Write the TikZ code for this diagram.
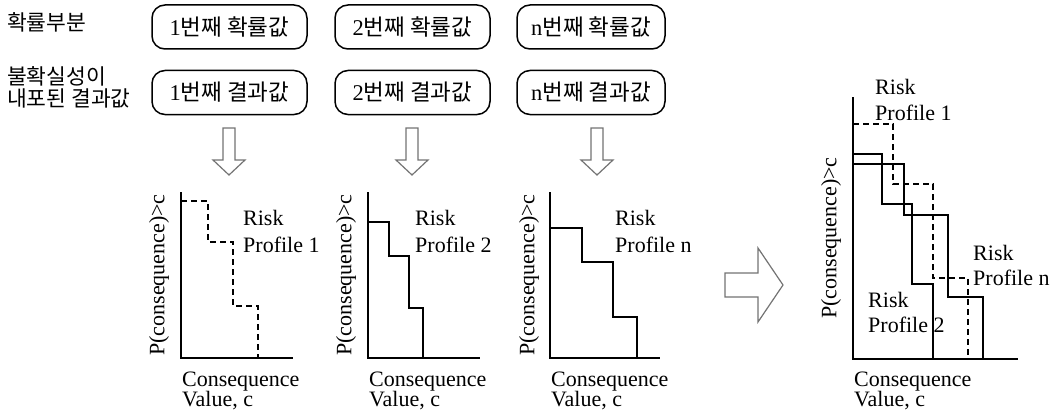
\documentclass[tikz,border=0pt]{standalone}
\usepackage{fontspec}
\setmainfont{Liberation Serif}
\newfontfamily\kr{Noto Sans CJK KR}
\begin{document}
\begin{tikzpicture}[x=1pt,y=-1pt,
  every node/.style={inner sep=0pt, font=\fontsize{22}{26}\selectfont},
  krtext/.style={font=\fontsize{21.5}{22}\selectfont\kr, align=left},
  inbox/.style={draw, line width=1.5pt, rounded corners=13pt,
    minimum width=155pt, minimum height=44pt, font=\fontsize{22.5}{24}\selectfont},
  axisline/.style={line width=1.9pt},
  curve/.style={line width=1.9pt},
  dcurve/.style={line width=1.6pt, dash pattern=on 6pt off 4pt},
  blockarrow/.style={draw=black!55, line width=1.2pt, fill=white},
  ylab/.style={rotate=90, anchor=center},
  tag/.style={anchor=base west}]
\useasboundingbox (0,0) rectangle (1055,412);

% row labels
\node[krtext, anchor=west] (lp) at (7,22) {확률부분};
\node[krtext, anchor=west] (lr) at (7,87) {불확실성이\\내포된 결과값};

% input boxes
\node[inbox] (p1) at (229.5,27) {1{\kr 번째 확률값}};
\node[inbox] (p2) at (412.5,27) {2{\kr 번째 확률값}};
\node[inbox, minimum width=148pt] (pn) at (591,27) {n{\kr 번째 확률값}};
\node[inbox] (r1) at (229.5,92.5) {1{\kr 번째 결과값}};
\node[inbox] (r2) at (412.5,92.5) {2{\kr 번째 결과값}};
\node[inbox, minimum width=148pt] (rn) at (591,92.5) {n{\kr 번째 결과값}};

% hollow down arrows
\foreach \cx in {229,412,597}
  \draw[blockarrow] (\cx-6,128) -- (\cx+6,128) -- (\cx+6,160) -- (\cx+16,160)
    -- (\cx,175) -- (\cx-16,160) -- (\cx-6,160) -- cycle;

% chart 1
\draw[axisline] (181,192) -- (181,358) -- (293,358);
\draw[dcurve] (181,201) -| (208,242) -| (233,306) -| (258,358);
\node[tag] (k1a) at (243,225.5) {Risk};
\node[tag] (k1b) at (243,252.5) {Profile 1};
\node[ylab] (y1) at (159,275) {P(consequence)>c};
\node[tag] (x1a) at (182,386) {Consequence};
\node[tag] (x1b) at (182,406) {Value, c};

% chart 2
\draw[axisline] (368,192) -- (368,358) -- (480,358);
\draw[curve] (368,222) -| (389,256) -| (409,308) -| (423,358);
\node[tag] (k2a) at (415,225.5) {Risk};
\node[tag] (k2b) at (415,252.5) {Profile 2};
\node[ylab] (y2) at (346,275) {P(consequence)>c};
\node[tag] (x2a) at (369,386) {Consequence};
\node[tag] (x2b) at (369,406) {Value, c};

% chart n
\draw[axisline] (550,192) -- (550,358) -- (660,358);
\draw[curve] (550,228) -| (582,262) -| (613,317) -| (637,358);
\node[tag] (kna) at (615,225.5) {Risk};
\node[tag] (knb) at (615,252.5) {Profile n};
\node[ylab] (yn) at (529,275) {P(consequence)>c};
\node[tag] (xna) at (551,386) {Consequence};
\node[tag] (xnb) at (551,406) {Value, c};

% combining arrow
\draw[blockarrow] (725,273) -- (758,273) -- (758,248) -- (783,285)
  -- (758,322) -- (758,297) -- (725,297) -- cycle;

% combined chart
\draw[axisline] (853,97) -- (853,359) -- (1018,359);
\draw[dcurve] (853,124) -| (893,184) -| (933,278) -| (968,359);
\draw[curve] (853,154) -| (882,204) -| (912,284) -| (933,359);
\draw[curve] (853,164) -| (904,215) -| (948,297) -| (983,359);
\node[tag] (c1a) at (875,95) {Risk};
\node[tag] (c1b) at (875,120.5) {Profile 1};
\node[tag] (cna) at (973,260) {Risk};
\node[tag] (cnb) at (973,285.5) {Profile n};
\node[tag] (c2a) at (868,307) {Risk};
\node[tag] (c2b) at (868,332.5) {Profile 2};
\node[ylab] (yc) at (831,238) {P(consequence)>c};
\node[tag] (xca) at (854,386) {Consequence};
\node[tag] (xcb) at (854,406) {Value, c};
\end{tikzpicture}
\end{document}
